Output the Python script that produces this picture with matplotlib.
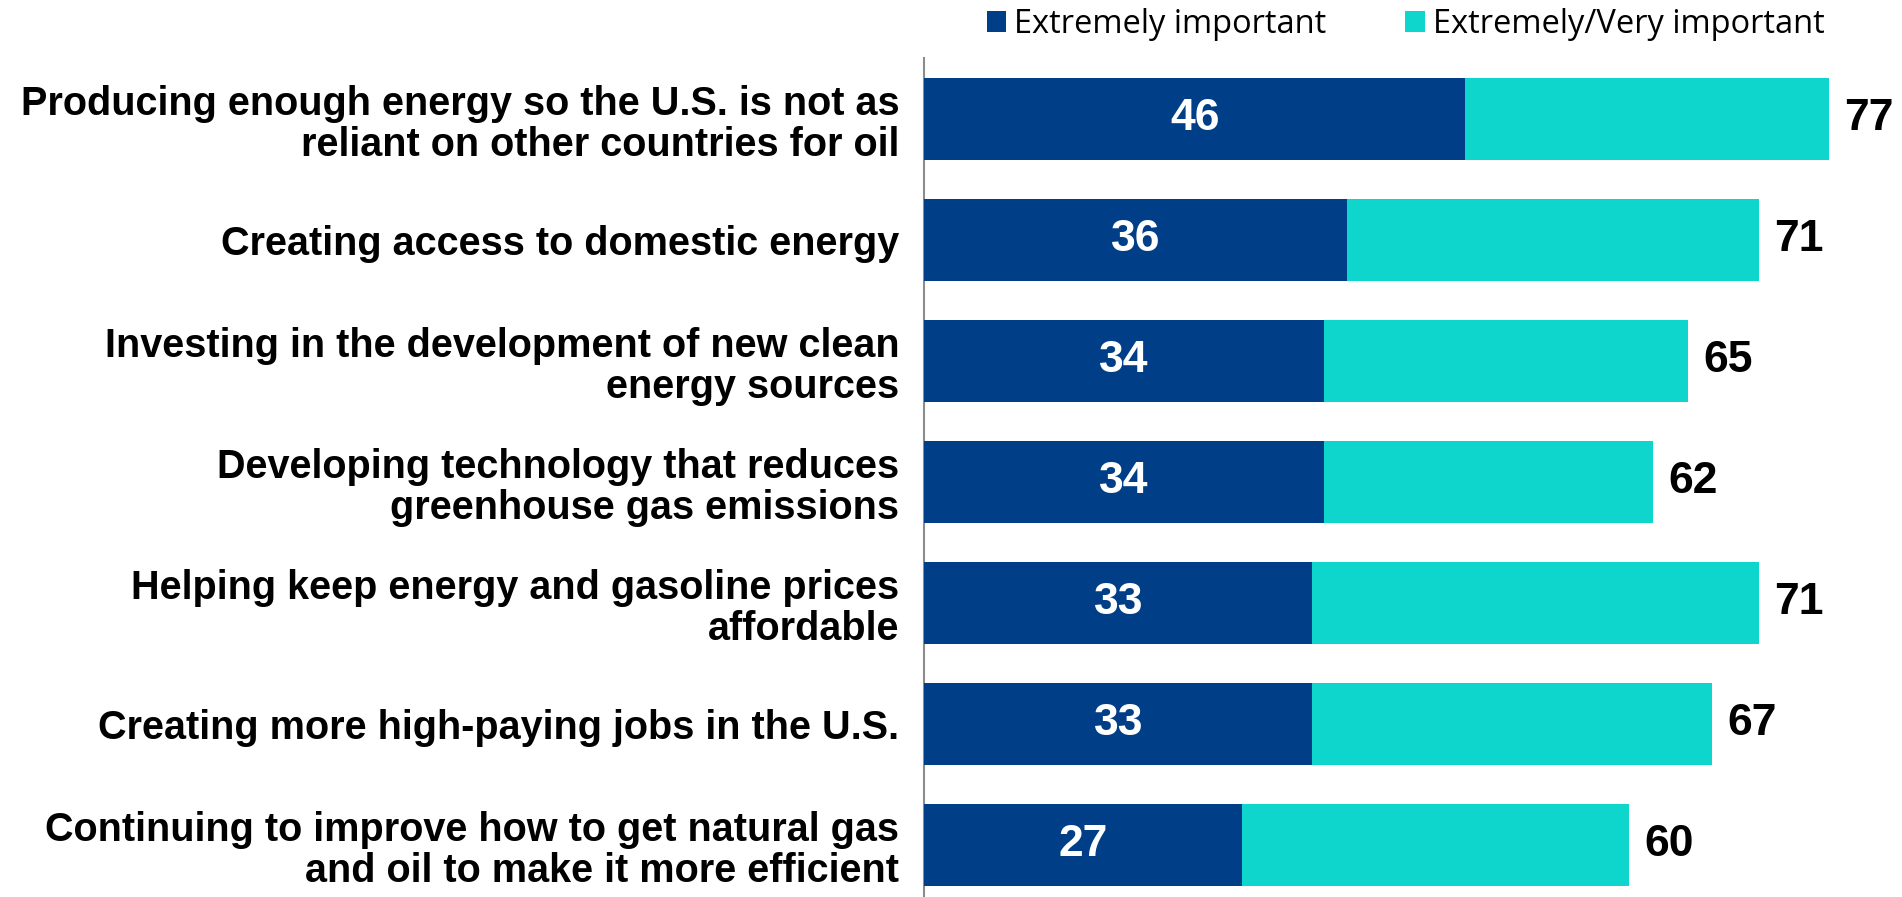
import numpy as np
import matplotlib
matplotlib.use("Agg")
import matplotlib.pyplot as plt

categories = [
    "Producing enough energy so the U.S. is not as\nreliant on other countries for oil",
    "Creating access to domestic energy",
    "Investing in the development of new clean\nenergy sources",
    "Developing technology that reduces\ngreenhouse gas emissions",
    "Helping keep energy and gasoline prices\naffordable",
    "Creating more high-paying jobs in the U.S.",
    "Continuing to improve how to get natural gas\nand oil to make it more efficient",
]
extremely = [46, 36, 34, 34, 33, 33, 27]
extremely_very = [77, 71, 65, 62, 71, 67, 60]

navy = "#003F87"
cyan = "#0FD6CD"

plt.rcParams['font.family'] = ['Liberation Sans', 'DejaVu Sans']

fig = plt.figure(figsize=(19.02, 8.97), dpi=100)
ax = fig.add_axes([0.486, 0.0, 0.514, 0.935])

y = np.arange(len(categories))
ax.barh(y, extremely_very, height=0.68, color=cyan, label="Extremely/Very important", zorder=2)
ax.barh(y, extremely, height=0.68, color=navy, label="Extremely important", zorder=3)

for i in range(len(categories)):
    ax.text(extremely[i] / 2, y[i], str(extremely[i]), color="white", fontsize=32,
            fontweight="bold", ha="center", va="center", zorder=4)
    ax.text(extremely_very[i] + 1.3, y[i], str(extremely_very[i]), color="black", fontsize=32,
            fontweight="bold", ha="left", va="center", zorder=4)

ax.set_xlim(0, 83.2)
ax.set_ylim(6.43, -0.5)
ax.set_yticks(y)
ax.set_yticklabels(categories, fontsize=28.5, fontweight="bold", linespacing=1.1)
ax.tick_params(axis="y", length=0, pad=18)
ax.set_xticks([])
for s in ["top", "right", "bottom"]:
    ax.spines[s].set_visible(False)
ax.spines["left"].set_color("#8C8C8C")
ax.spines["left"].set_linewidth(1.5)

handles, labels = ax.get_legend_handles_labels()
fig.legend(handles[::-1], labels[::-1], loc="center", bbox_to_anchor=(0.739, 0.973), ncol=2,
           frameon=False, prop={"family": "Open Sans", "size": 23.5}, handlelength=0.6,
           handleheight=0.6, handletextpad=0.25, columnspacing=2.4)

fig.savefig("out.png", dpi=100)
